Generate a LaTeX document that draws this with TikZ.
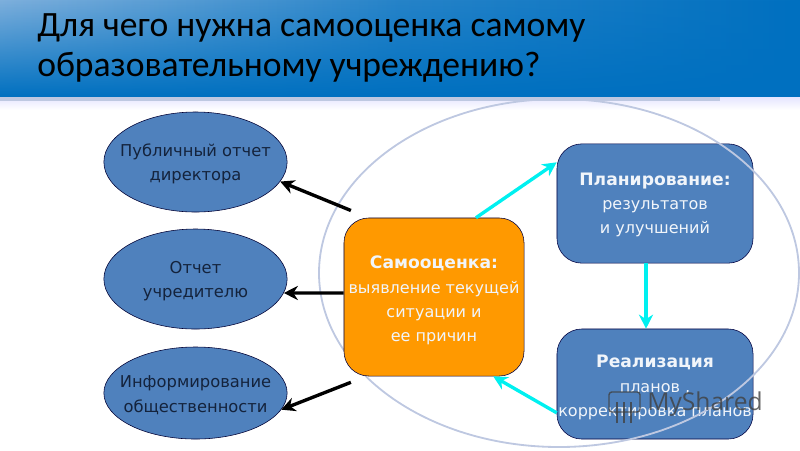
\documentclass[tikz,border=0pt]{standalone}
\usepackage{fontspec}
\setmainfont{DejaVu Sans}
\newfontfamily\titlefont{Carlito}
\newfontfamily\markfont{Open Sans}
\usetikzlibrary{shapes.geometric,arrows.meta,fadings}
\definecolor{boxblue}{RGB}{79,129,189}
\definecolor{boxorange}{RGB}{255,153,0}
\definecolor{boxcyan}{RGB}{0,240,240}
\definecolor{ringblue}{RGB}{190,200,225}
\definecolor{bandblue}{RGB}{0,112,192}
\definecolor{bandlight}{RGB}{125,175,220}
\definecolor{ovaltext}{RGB}{20,35,60}
\tikzset{
	oval/.style={ellipse, draw=black!80!blue, fill=boxblue, minimum width=4.58cm, inner xsep=-0.33cm, inner ysep=0pt, align=center, text=ovaltext, font=\fontsize{11.6}{17.3}\selectfont},
	roundbox/.style={rectangle, rounded corners=0.62cm, draw=black!75!blue, fill=boxblue, minimum width=4.9cm, inner sep=0pt, align=center, text=white!92!boxblue, font=\fontsize{11.4}{17.3}\selectfont},
	blackarrow/.style={draw=black, line width=2.4pt, -{Stealth[length=10pt,width=10pt]}},
	cyanarrow/.style={draw=boxcyan, line width=2.4pt, -{Stealth[length=10pt,width=10pt]}},
}
\begin{document}
\begin{tikzpicture}[x=0.025cm, y=-0.025cm, line join=round]
	\useasboundingbox (0,0) rectangle (800,450);
	% header band
	\shade[left color=bandlight, right color=bandblue, middle color=bandblue!70!bandlight] (0,0) rectangle (800,97);
	\fill[bandblue, path fading=north] (0,0) rectangle (800,97);
	\shade[top color=blue!10!white, bottom color=white] (0,97) rectangle (800,110);
	\fill[ringblue] (0,97) rectangle (720,101);
	\node[font=\titlefont\fontsize{25.3}{29}\selectfont, anchor=north west, align=left, inner sep=0pt] (title) at (37,13) {Для чего нужна самооценка самому\\образовательному учреждению?};
	% left side
	\node[oval, minimum height=2.5cm] (report) at (195.5,162) {\rule{0pt}{11.5pt}Публичный отчет\\директора};
	\node[oval, minimum height=2.5cm] (founder) at (195.5,279) {\rule{0pt}{11.5pt}Отчет\\учредителю};
	\node[oval, minimum height=2.3cm] (public) at (195.5,393) {\rule{0pt}{11.5pt}Информирование\\общественности};
	% right side
	\node[roundbox, minimum height=2.98cm] (plan) at (655,203.5) {\textbf{\fontsize{12.2}{17.3}\selectfont\rule{0pt}{11pt}Планирование:}\\результатов\\и улучшений};
	\node[roundbox, minimum height=2.75cm] (real) at (655,384) {\textbf{\fontsize{12.2}{17.3}\selectfont\rule{0pt}{14pt}Реализация}\\планов ,\\корректировка планов};
	\draw[ringblue, line width=1.3pt] (559,273) ellipse (240 and 174);
	\node[roundbox, fill=boxorange, minimum width=4.5cm, minimum height=3.95cm] (self) at (434,297) {\textbf{\fontsize{12.2}{17.3}\selectfont\rule{0pt}{14pt}Самооценка:}\\выявление текущей\\ситуации и\\ее причин};
	% arrows
	\draw[blackarrow] ([xshift=0.18cm,yshift=0.18cm]self.north west) -- (report.-13);
	\draw[blackarrow] (self.west) ++(0,-4) -- (founder.-9);
	\draw[blackarrow] ([xshift=0.18cm,yshift=-0.15cm]self.south west) -- (public.-11);
	\draw[cyanarrow] ([xshift=1.05cm]self.north) -- ([yshift=1.03cm]plan.west);
	\draw[cyanarrow] (plan.south-|646,0) -- (real.north-|646,0);
	\draw[cyanarrow] ([yshift=-0.72cm]real.west) -- ([xshift=1.48cm]self.south);
	% watermark
	\node[font=\markfont\fontsize{17.5}{18}\selectfont, text=black!75, opacity=0.8, anchor=west, inner sep=0pt] (mark) at (647,404) {MyShared};
	\draw[black!75, opacity=0.8, line width=1pt, rounded corners=2pt] (609,392) rectangle (640,412);
	\foreach \x in {617,624,631}\draw[black!75, opacity=0.8, line width=1.2pt] (\x,423)--(\x,402);
\end{tikzpicture}
\end{document}
